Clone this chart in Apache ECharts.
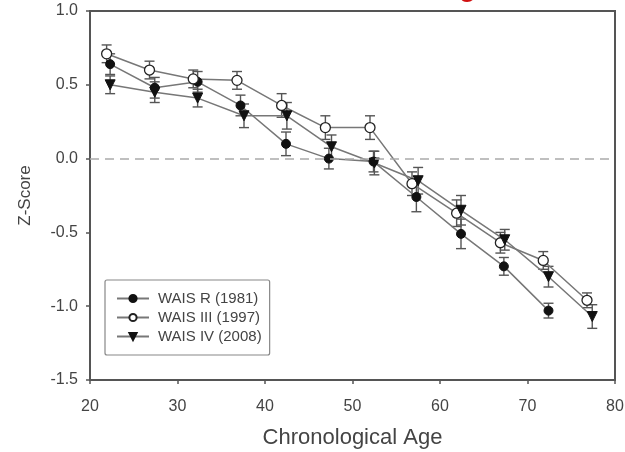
<!DOCTYPE html>
<html>
<head>
<meta charset="utf-8">
<script src="https://cdn.jsdelivr.net/npm/echarts@6/dist/echarts.min.js"></script>
<style>html,body{margin:0;padding:0;background:#fff;}#c{width:625px;height:452px;}</style>
</head>
<body>
<div id="c"></div>
<script>
const seriesNames = ['WAIS R (1981)', 'WAIS III (1997)', 'WAIS IV (2008)'];
const yTicks = ['-1.5', '-1.0', '-0.5', '0.0', '0.5', '1.0'];
const xTicks = ['20', '30', '40', '50', '60', '70', '80'];

const waisRAge = [22.3, 27.4, 32.3, 37.2, 42.4, 47.3, 52.4, 57.3, 62.4, 67.3, 72.4];
const waisRZ   = [0.64, 0.48, 0.52, 0.36, 0.10, 0.00, -0.02, -0.26, -0.51, -0.73, -1.03];
const waisRErr = [0.07, 0.07, 0.07, 0.07, 0.08, 0.07, 0.07, 0.10, 0.10, 0.06, 0.05];

const waisIIIAge = [21.9, 26.8, 31.8, 36.8, 41.9, 46.9, 52.0, 56.8, 61.9, 66.9, 71.8, 76.8];
const waisIIIZ   = [0.71, 0.60, 0.54, 0.53, 0.36, 0.21, 0.21, -0.17, -0.37, -0.57, -0.69, -0.96];
const waisIIIErr = [0.06, 0.06, 0.06, 0.06, 0.08, 0.08, 0.08, 0.08, 0.09, 0.07, 0.06, 0.05];

const waisIVAge = [22.3, 27.4, 32.3, 37.6, 42.5, 47.6, 52.5, 57.5, 62.4, 67.4, 72.4, 77.4];
const waisIVZ   = [0.50, 0.45, 0.41, 0.29, 0.29, 0.08, -0.03, -0.15, -0.35, -0.55, -0.80, -1.07];
const waisIVErr = [0.06, 0.07, 0.06, 0.08, 0.09, 0.08, 0.08, 0.09, 0.10, 0.07, 0.07, 0.08];

const FONT = '"Liberation Sans", Arial, sans-serif';
const chart = echarts.init(document.getElementById('c'));

function pts(a, z) { return a.map((x, i) => [x, z[i]]); }
function errData(a, z, e) { return a.map((x, i) => [x, z[i] - e[i], z[i] + e[i]]); }

function errSeries(a, z, e) {
  return {
    type: 'custom',
    data: errData(a, z, e),
    z: 1,
    silent: true,
    encode: { x: 0, y: [1, 2] },
    renderItem: function (params, api) {
      const x = api.value(0);
      const lo = api.coord([x, api.value(1)]);
      const hi = api.coord([x, api.value(2)]);
      const cw = 5;
      const st = { stroke: '#555', lineWidth: 1.4 };
      return {
        type: 'group',
        children: [
          { type: 'line', shape: { x1: lo[0], y1: lo[1], x2: hi[0], y2: hi[1] }, style: st },
          { type: 'line', shape: { x1: lo[0] - cw, y1: lo[1], x2: lo[0] + cw, y2: lo[1] }, style: st },
          { type: 'line', shape: { x1: hi[0] - cw, y1: hi[1], x2: hi[0] + cw, y2: hi[1] }, style: st }
        ]
      };
    }
  };
}

const lineStyle = { color: '#777', width: 1.5 };

chart.setOption({
  animation: false,
  backgroundColor: '#fff',
  grid: { left: 90, right: 10, top: 11, bottom: 72, show: true, borderColor: '#555', borderWidth: 2, containLabel: false, outerBoundsMode: 'none' },
  legend: {
    orient: 'vertical',
    left: 105, top: 280,
    padding: [11, 8, 11, 11],
    borderColor: '#888', borderWidth: 1.2, borderRadius: 2,
    itemWidth: 32, itemHeight: 9, itemGap: 4,
    textStyle: { fontFamily: FONT, fontSize: 15, color: '#444', lineHeight: 15, padding: [0, 0, 0, 4] },
    data: seriesNames
  },
  xAxis: {
    type: 'value', min: 20, max: 80, interval: 10,
    axisLine: { show: true, onZero: false, lineStyle: { color: '#555', width: 2 } },
    axisTick: { show: true, length: 4, lineStyle: { color: '#555', width: 1.5 } },
    splitLine: { show: false },
    axisLabel: { fontFamily: FONT, fontSize: 16, color: '#444', margin: 19 },
    name: 'Chronological Age', nameLocation: 'middle', nameGap: 47,
    nameTextStyle: { fontFamily: FONT, fontSize: 22, color: '#444' }
  },
  yAxis: {
    type: 'value', min: -1.5, max: 1.0, interval: 0.5,
    axisLine: { show: true, onZero: false, lineStyle: { color: '#555', width: 2 } },
    axisTick: { show: true, length: 4, lineStyle: { color: '#555', width: 1.5 } },
    splitLine: { show: false },
    axisLabel: { fontFamily: FONT, fontSize: 16, color: '#444', margin: 12, formatter: v => v.toFixed(1) },
    name: 'Z-Score', nameLocation: 'middle', nameGap: 56,
    nameTextStyle: { fontFamily: FONT, fontSize: 17, color: '#444' }
  },
  graphic: [
    { type: 'text', left: 459, top: -26, style: { text: 'g', font: 'bold 28px "Liberation Sans", Arial', fill: '#d01010' } }
  ],
  series: [
    errSeries(waisRAge, waisRZ, waisRErr),
    errSeries(waisIIIAge, waisIIIZ, waisIIIErr),
    errSeries(waisIVAge, waisIVZ, waisIVErr),
    {
      name: seriesNames[0], type: 'line', z: 3, data: pts(waisRAge, waisRZ),
      symbol: 'circle', symbolSize: 9,
      itemStyle: { color: '#111', borderColor: '#111', borderWidth: 1 },
      lineStyle: lineStyle,
      markLine: {
        silent: true, symbol: 'none', label: { show: false },
        lineStyle: { color: '#aaa', type: [9, 6], width: 1.5 },
        data: [{ yAxis: 0 }]
      }
    },
    {
      name: seriesNames[1], type: 'line', z: 3, data: pts(waisIIIAge, waisIIIZ),
      symbol: 'circle', symbolSize: 10,
      itemStyle: { color: '#fff', borderColor: '#222', borderWidth: 1.3 },
      lineStyle: lineStyle
    },
    {
      name: seriesNames[2], type: 'line', z: 3, data: pts(waisIVAge, waisIVZ),
      symbol: 'triangle', symbolSize: 10, symbolRotate: 180,
      itemStyle: { color: '#111', borderColor: '#111', borderWidth: 1 },
      lineStyle: lineStyle
    }
  ]
});
</script>
</body>
</html>
